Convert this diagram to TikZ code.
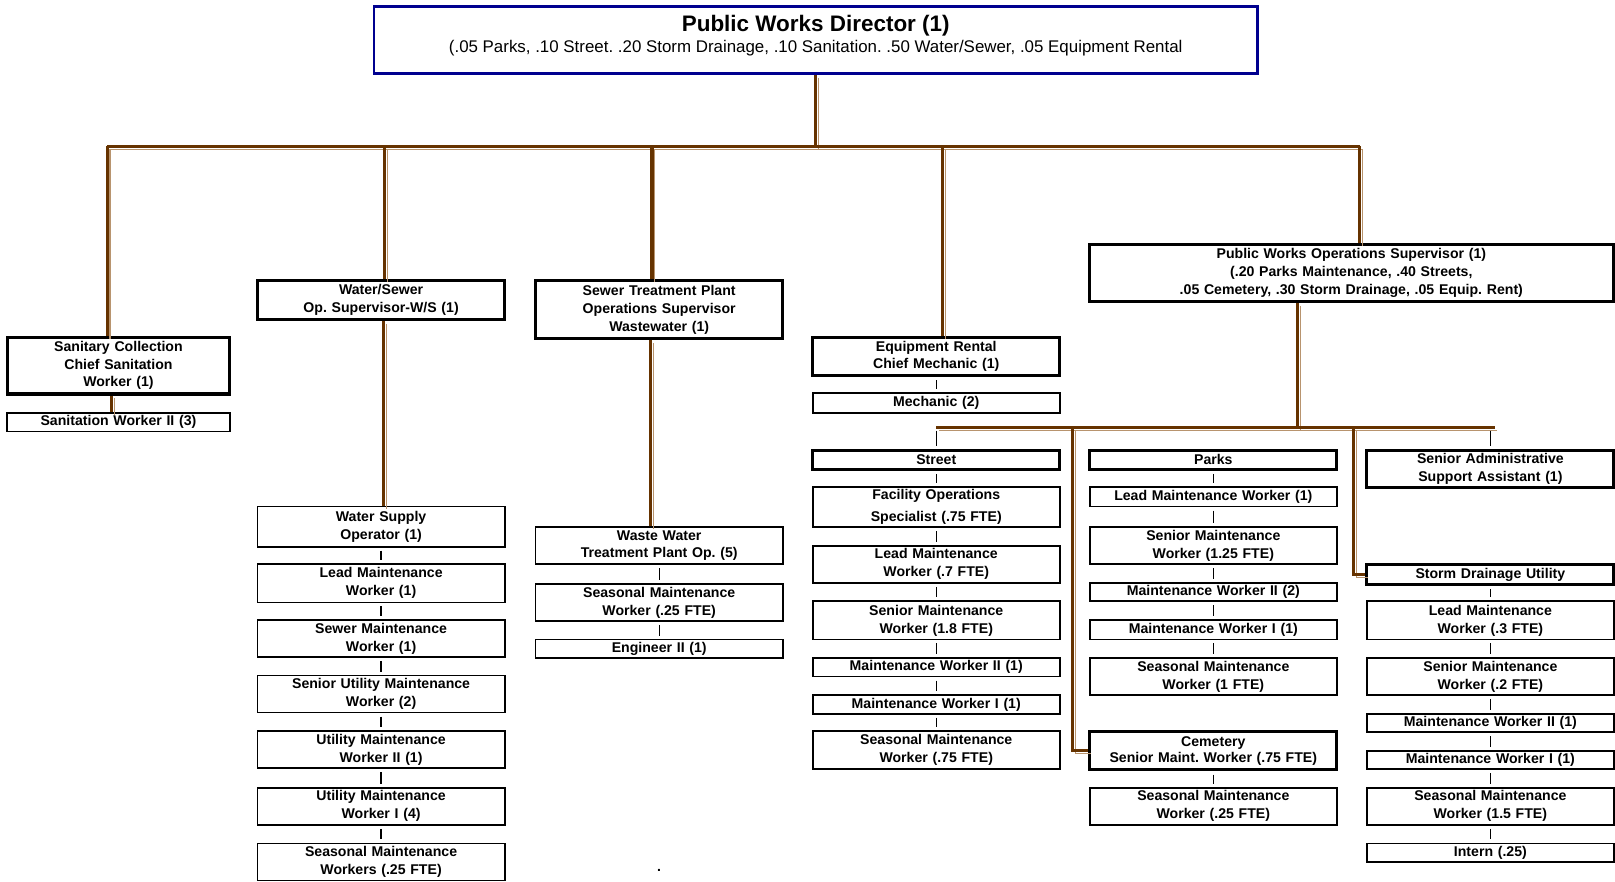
\documentclass[tikz,border=0pt]{standalone}
\usepackage{fontspec}
\setmainfont{Liberation Sans}
\frenchspacing
\definecolor{trunkBrown}{HTML}{663300}
\definecolor{trunkTan}{HTML}{B8946E}
\definecolor{directorBlue}{HTML}{00008F}
\newcommand{\bodyFont}{\fontsize{13.7}{17.5}\selectfont\bfseries}
\tikzset{
    % Boxes
    postBox/.style={rectangle, draw=black, line width=1.7pt, anchor=north, inner sep=0pt,
        minimum width=240pt, text width=234pt, align=center, font=\bodyFont},
    headBox/.style={postBox, line width=3pt},
    dirBox/.style={rectangle, draw=directorBlue, line width=2.6pt, anchor=north,
        minimum width=858pt, minimum height=65pt},
    % Lines
    trunkLine/.style={draw=trunkBrown, line width=3pt,
        preaction={draw=trunkTan, line width=1pt, transform canvas={shift={(2.8pt,-2.8pt)}}}},
    linkLine/.style={draw=black, line width=1.2pt, shorten <=3pt, shorten >=3pt}
}

\begin{document}
\begin{tikzpicture}[x=1pt, y=-1pt]
    \useasboundingbox (0,0) rectangle (1568,856);

    % Director
    \node[dirBox] (dir) at (792,5) {};
    \node[font=\fontsize{21.8}{24}\selectfont\bfseries] (dirTitle) at (792,25) {Public Works Director (1)};
    \node[font=\fontsize{16.4}{18}\selectfont] (dirShare) at (792,47) {(.05 Parks, .10 Street. .20 Storm Drainage, .10 Sanitation. .50 Water/Sewer, .05 Equipment Rental};

    % Sanitation
    \node[headBox, minimum width=216pt, text width=210pt, minimum height=55pt, font=\fontsize{13.7}{17}\selectfont\bfseries] (sanChief) at (115,326) {Sanitary Collection\\Chief Sanitation\\Worker (1)};
    \node[postBox, minimum width=216pt, text width=210pt, minimum height=18pt] (sanWorker) at (115,400) {Sanitation Worker II (3)};

    % Water / Sewer
    \node[headBox, minimum height=38pt] (wsSup) at (370,271) {Water/Sewer\\Op. Supervisor-W/S (1)};
    \node[postBox, minimum height=39pt] (wsOperator) at (370,491) {Water Supply\\Operator (1)};
    \node[postBox, minimum height=37pt] (wsLead) at (370,547) {Lead Maintenance\\Worker (1)};
    \node[postBox, minimum height=36pt] (wsSewer) at (370,601) {Sewer Maintenance\\Worker (1)};
    \node[postBox, minimum height=36pt] (wsSenior) at (370,655) {Senior Utility Maintenance\\Worker (2)};
    \node[postBox, minimum height=36pt] (wsUtilII) at (370,709) {Utility Maintenance\\Worker II (1)};
    \node[postBox, minimum height=36pt] (wsUtilI) at (370,764) {Utility Maintenance\\Worker I (4)};
    \node[postBox, minimum height=36pt] (wsSeasonal) at (370,818) {Seasonal Maintenance\\Workers (.25 FTE)};

    % Sewer treatment plant
    \node[headBox, minimum height=56pt, font=\fontsize{13.7}{17.5}\selectfont\bfseries] (stpSup) at (640,271) {Sewer Treatment Plant\\Operations Supervisor\\Wastewater (1)};
    \node[postBox, minimum height=36pt, font=\fontsize{13.7}{16}\selectfont\bfseries] (stpOp) at (640,511) {Waste Water\\Treatment Plant Op. (5)};
    \node[postBox, minimum height=36pt] (stpSeasonal) at (640,566) {Seasonal Maintenance\\Worker (.25 FTE)};
    \node[postBox, minimum height=18pt] (stpEngineer) at (640,620) {Engineer II (1)};
    \node[font=\bodyFont] (stpDot) at (640,845) {.};

    % Equipment rental
    \node[headBox, minimum height=37pt, font=\fontsize{13.7}{16}\selectfont\bfseries] (eqChief) at (909,326) {Equipment Rental\\Chief Mechanic (1)};
    \node[postBox, minimum height=19pt] (eqMechanic) at (909,381) {Mechanic (2)};

    % Operations supervisor
    \node[headBox, minimum width=509pt, text width=500pt, minimum height=55pt] (opsSup) at (1312,236) {Public Works Operations Supervisor (1)\\(.20 Parks Maintenance, .40 Streets,\\.05 Cemetery, .30 Storm Drainage, .05 Equip. Rent)};

    % Street
    \node[headBox, minimum height=18pt] (street) at (909,436) {Street};
    \node[postBox, minimum height=39pt, font=\fontsize{13.7}{21}\selectfont\bfseries] (stFacility) at (909,472) {Facility Operations\\Specialist (.75 FTE)};
    \node[postBox, minimum height=36pt] (stLead) at (909,529) {Lead Maintenance\\Worker (.7 FTE)};
    \node[postBox, minimum height=37pt] (stSenior) at (909,583) {Senior Maintenance\\Worker (1.8 FTE)};
    \node[postBox, minimum height=18pt] (stMaintII) at (909,638) {Maintenance Worker II (1)};
    \node[postBox, minimum height=18pt] (stMaintI) at (909,674) {Maintenance Worker I (1)};
    \node[postBox, minimum height=37pt] (stSeasonal) at (909,709) {Seasonal Maintenance\\Worker (.75 FTE)};

    % Parks and cemetery
    \node[headBox, minimum height=18pt] (parks) at (1178,436) {Parks};
    \node[postBox, minimum height=19pt] (pkLead) at (1178,472) {Lead Maintenance Worker (1)};
    \node[postBox, minimum height=36pt] (pkSenior) at (1178,511) {Senior Maintenance\\Worker (1.25 FTE)};
    \node[postBox, minimum height=18pt] (pkMaintII) at (1178,565) {Maintenance Worker II (2)};
    \node[postBox, minimum height=19pt] (pkMaintI) at (1178,601) {Maintenance Worker I (1)};
    \node[postBox, minimum height=36pt] (pkSeasonal) at (1178,638) {Seasonal Maintenance\\Worker (1 FTE)};
    \node[headBox, minimum height=37pt, font=\fontsize{13.7}{16}\selectfont\bfseries] (cemetery) at (1178,709) {Cemetery\\Senior Maint. Worker (.75 FTE)};
    \node[postBox, minimum height=36pt] (cmSeasonal) at (1178,764) {Seasonal Maintenance\\Worker (.25 FTE)};

    % Admin and storm drainage
    \node[headBox, minimum height=36pt] (admin) at (1447,436) {Senior Administrative\\Support Assistant (1)};
    \node[headBox, minimum height=19pt] (storm) at (1447,547) {Storm Drainage Utility};
    \node[postBox, minimum height=37pt] (sdLead) at (1447,583) {Lead Maintenance\\Worker (.3 FTE)};
    \node[postBox, minimum height=36pt] (sdSenior) at (1447,638) {Senior Maintenance\\Worker (.2 FTE)};
    \node[postBox, minimum height=18pt] (sdMaintII) at (1447,692) {Maintenance Worker II (1)};
    \node[postBox, minimum height=18pt] (sdMaintI) at (1447,728) {Maintenance Worker I (1)};
    \node[postBox, minimum height=36pt] (sdSeasonal) at (1447,764) {Seasonal Maintenance\\Worker (1.5 FTE)};
    \node[postBox, minimum height=18pt] (sdIntern) at (1447,818) {Intern (.25)};

    % Brown trunks
    \coordinate (topBus) at (0,142);
    \coordinate (lowBus) at (0,415);
    \draw[trunkLine] (dir.south) -- (dir.south |- topBus);
    \draw[trunkLine] ([xshift=-11pt]sanChief.north |- topBus) -- ([xshift=8pt]opsSup.north |- topBus);
    \draw[trunkLine] ([xshift=-11pt]sanChief.north |- topBus) -- ([xshift=-11pt]sanChief.north);
    \draw[trunkLine] ([xshift=-7pt]sanChief.south) -- ([xshift=-7pt]sanWorker.north);
    \draw[trunkLine] ([xshift=3pt]wsSup.north |- topBus) -- ([xshift=3pt]wsSup.north);
    \draw[trunkLine] ([xshift=2pt]wsSup.south) -- ([xshift=2pt]wsOperator.north);
    \draw[trunkLine] ([xshift=-7pt]stpSup.north |- topBus) -- ([xshift=-7pt]stpSup.north);
    \draw[trunkLine] ([xshift=-8pt]stpSup.south) -- ([xshift=-8pt]stpOp.north);
    \draw[trunkLine] ([xshift=6pt]eqChief.north |- topBus) -- ([xshift=6pt]eqChief.north);
    \draw[trunkLine] ([xshift=8pt]opsSup.north |- topBus) -- ([xshift=8pt]opsSup.north);
    \draw[trunkLine] ([xshift=-52pt]opsSup.south) -- ([xshift=-52pt]opsSup.south |- lowBus);
    \draw[trunkLine] (street.north |- lowBus) -- ([xshift=4pt]admin.north |- lowBus);
    \draw[trunkLine] ([xshift=-15pt]cemetery.west |- lowBus) |- (cemetery.west);
    \draw[trunkLine] ([xshift=-11pt]storm.west |- lowBus) |- (storm.west);

    % Thin links
    \draw[linkLine] (street.north |- lowBus) -- (street);
    \draw[linkLine] (admin.north |- lowBus) -- (admin);
    \foreach \a/\b in {eqChief/eqMechanic,
        wsOperator/wsLead, wsLead/wsSewer, wsSewer/wsSenior, wsSenior/wsUtilII, wsUtilII/wsUtilI, wsUtilI/wsSeasonal,
        stpOp/stpSeasonal, stpSeasonal/stpEngineer,
        street/stFacility, stFacility/stLead, stLead/stSenior, stSenior/stMaintII, stMaintII/stMaintI, stMaintI/stSeasonal,
        parks/pkLead, pkLead/pkSenior, pkSenior/pkMaintII, pkMaintII/pkMaintI, pkMaintI/pkSeasonal, cemetery/cmSeasonal,
        storm/sdLead, sdLead/sdSenior, sdSenior/sdMaintII, sdMaintII/sdMaintI, sdMaintI/sdSeasonal, sdSeasonal/sdIntern}
        \draw[linkLine] (\a) -- (\b);
\end{tikzpicture}
\end{document}
